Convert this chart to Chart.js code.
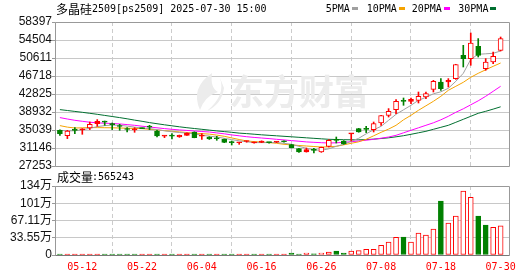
<!DOCTYPE html>
<html><head><meta charset="utf-8">
<script src="https://cdn.jsdelivr.net/npm/chart.js@4/dist/chart.umd.min.js"></script>
<style>
html,body{margin:0;padding:0;background:#fff;width:530px;height:276px;overflow:hidden}
#wrap{position:relative;width:530px;height:276px}
#kc{position:absolute;left:0;top:0}
#vc{position:absolute;left:0;top:168px}
</style></head><body>
<div id="wrap"><canvas id="kc" width="530" height="176"></canvas><canvas id="vc" width="530" height="108"></canvas></div>
<script>
const dates = ['05-07','05-08','05-09','05-12','05-13','05-14','05-15','05-16','05-19','05-20','05-21','05-22','05-23','05-26','05-27','05-28','05-29','05-30','06-03','06-04','06-05','06-06','06-09','06-10','06-11','06-12','06-13','06-16','06-17','06-18','06-19','06-20','06-23','06-24','06-25','06-26','06-27','06-30','07-01','07-02','07-03','07-04','07-07','07-08','07-09','07-10','07-11','07-14','07-15','07-16','07-17','07-18','07-21','07-22','07-23','07-24','07-25','07-28','07-29','07-30'];
const open  = [34973,33825,35000,35080,35469,36421,36800,36250,35950,35280,35080,35450,35700,34821,33720,33760,33523,33890,34605,33720,33523,33200,33026,32330,32290,32550,32250,32350,32350,32400,32600,31879,31014,30278,30680,30278,31511,32850,32657,34200,35340,35220,35123,36551,38217,39450,41280,41245,41462,42175,43840,45419,45419,46154,51194,50481,53141,48318,49745,52276];
const high  = [35060,34973,35556,35340,36767,37287,36984,36551,36270,35556,35556,35500,36054,34973,33800,34259,33950,34450,34650,34259,33600,33675,33100,32657,32380,32700,32400,32700,32400,32500,32700,31950,31050,31143,31079,31350,32961,33523,32750,34280,35400,35837,36767,38200,39666,41613,41959,41959,43256,43256,45787,46154,46154,49250,53357,56018,54807,50481,51908,55153];
const low   = [33891,33176,34259,34108,35123,35837,36054,35123,34973,34600,34540,35300,35123,33566,33393,33090,33450,33850,33350,33026,33000,32810,32300,31792,31943,32400,32200,32300,32200,32300,32400,31150,30200,30250,30062,30200,31360,32225,31950,32657,34550,34476,34605,36054,37849,38584,40380,40747,40877,41829,43256,43624,44338,45998,48664,49032,50827,47950,49399,52124];
const close = [34259,34821,34950,35150,36270,36919,36750,36200,35800,35150,35130,35350,35650,33739,33760,33720,33890,34389,33393,33760,33090,33150,32377,32300,32330,32600,32350,32650,32300,32450,32500,31230,30278,30797,30620,31295,32810,32780,32008,34259,34605,35160,36421,38152,39082,41245,41220,41678,42327,42910,45571,43992,45787,49183,50481,53855,51194,49745,50978,54807];
const ma5  = [34972,34864,34864,35080,35405,35772,35988,36097,36053,35880,35664,35448,35340,35123,34864,34648,34496,34388,34215,33890,33717,33523,33242,32960,32701,32485,32312,32312,32312,32333,32160,31944,31511,31079,30754,30646,30970,31511,31944,32593,33242,34215,35080,35837,37135,38433,39406,40379,41461,42110,42867,43300,44057,45571,47301,50329,51411,51519,51627,52125];
const ma10 = [35988,35664,35469,35513,35556,35556,35534,35513,35469,35426,35383,35340,35188,35059,34907,34756,34626,34496,34366,34258,34150,33934,33674,33328,32982,32679,32528,32420,32312,32160,31944,31814,31684,31576,31468,31360,31403,31511,31836,32160,32485,33025,33782,34539,35232,36053,37243,38216,39298,40271,41245,42326,43624,44489,45354,46436,47301,48058,48815,49529];
const ma20 = [37719,37416,37135,36919,36724,36594,36508,36443,36356,36205,36053,35859,35686,35513,35340,35188,35059,34950,34820,34712,34604,34409,34215,33977,33782,33588,33436,33306,33177,33025,32896,32744,32614,32463,32376,32290,32225,32268,32376,32506,32658,32831,33025,33263,33523,33890,34431,34972,35513,36053,36594,37243,38000,38865,39622,40488,41353,42326,43408,44489];
const ma30 = [39449,39254,39060,38865,38649,38433,38195,37957,37719,37459,37178,36918,36637,36399,36161,35945,35729,35534,35361,35188,35015,34842,34691,34539,34366,34258,34128,33998,33890,33782,33674,33566,33458,33349,33241,33133,33025,32982,32938,32917,32917,32960,33068,33198,33349,33566,33804,34107,34432,34756,35189,35621,36054,36703,37352,38000,38649,39082,39557,40055];
const volume = [12000,10000,9000,11000,15000,13000,10000,11000,9000,10000,8000,9000,10000,14000,10000,11000,10000,12000,15000,11000,13000,12000,16000,14000,13000,15000,12000,16000,15000,17000,20000,39000,20000,39000,22000,35000,58000,78000,39000,78000,84000,110000,110000,189000,253000,344000,350000,253000,428000,389000,506000,1050000,622000,759000,1245000,1122000,759000,583000,539000,565243];
const priceTicks = [27253,31146,35039,38932,42825,46718,50611,54504,58397];
const volTicks = [0,335550,671100,1006650,1342200];
const volTickLabels = ['0','33.55万','67.11万','101万','134万'];
const labelIdx = [3,11,19,27,35,43,51,59];
const titleCJK = '多晶硅';
const titleRest = '2509[ps2509] 2025-07-30 15:00';
const legendItems = [['5PMA','#a0a0a0'],['10PMA','#f5a300'],['20PMA','#ff00ff'],['30PMA','#006f30']];
const volLabel = '成交量';
const volLast = ':565243';

const RED = '#ff0000', GREEN = '#008000';
const PMIN = 27253, PMAX = 58397, XMIN = -0.656, XMAX = 60.12;
const pxPerPrice = 144 / (PMAX - PMIN);
const isUp = i => close[i] >= open[i];
const volUp = i => i === 0 ? isUp(0) : close[i] >= close[i - 1];

const bodyData = dates.map((d, i) => ({x: i, y: [open[i], close[i]]}));
const wickData = dates.map((d, i) => ({x: i, y: [low[i], high[i]]}));
const bodyBg = dates.map((d, i) => isUp(i) ? (Math.abs(close[i] - open[i]) * pxPerPrice < 2.5 ? RED : '#ffffff') : GREEN);
const bodyBd = dates.map((d, i) => isUp(i) ? RED : GREEN);
const line = (arr, color) => ({type: 'line', data: arr.map((v, i) => ({x: i, y: v})), borderColor: color, borderWidth: 1, pointRadius: 0, fill: false, tension: 0, order: 3});

const frame = (bottomColor) => ({id: 'frame', afterDatasetsDraw(c) {
  const a = c.chartArea, x = c.ctx;
  x.save(); x.lineWidth = 1; x.strokeStyle = '#999';
  const l = Math.round(a.left) + 0.5, t = Math.round(a.top) + 0.5, r = Math.round(a.right) + 0.5, b = Math.round(a.bottom) + 0.5;
  x.beginPath(); x.moveTo(l, b); x.lineTo(l, t); x.lineTo(r, t); x.lineTo(r, b); x.stroke();
  x.strokeStyle = bottomColor; x.beginPath(); x.moveTo(l, b); x.lineTo(r, b); x.stroke();
  x.restore();
}});

const watermark = {id: 'wm', beforeDatasetsDraw(c) {
  const x = c.ctx; x.save();
  x.fillStyle = '#ececec';
  x.beginPath();
  x.moveTo(212, 73); x.quadraticCurveTo(190, 88, 200, 110); x.quadraticCurveTo(205, 96, 218, 92);
  x.quadraticCurveTo(210, 88, 212, 73); x.fill();
  x.beginPath();
  x.moveTo(220, 78); x.quadraticCurveTo(226, 95, 207, 111); x.quadraticCurveTo(222, 104, 224, 88); x.fill();
  x.font = "bold 35px 'Noto Sans CJK SC'"; x.textBaseline = 'middle'; x.textAlign = 'left';
  x.fillText('东方财富', 229, 92);
  x.restore();
}};

const topText = {id: 'toptext', afterDraw(c) {
  const x = c.ctx; x.save(); x.fillStyle = '#000'; x.textBaseline = 'middle'; x.textAlign = 'left';
  x.font = "12px 'Noto Sans CJK SC'"; x.fillText(titleCJK, 56, 9);
  x.font = "10px 'DejaVu Sans Mono'"; x.fillText(titleRest, 92, 9);
  const pos = [325.7, 366.7, 411.7, 458.3];
  legendItems.forEach((it, k) => {
    x.fillStyle = '#000'; x.font = "10px 'DejaVu Sans Mono'";
    x.fillText(it[0], pos[k], 9);
    const w = x.measureText(it[0]).width;
    x.fillStyle = it[1]; x.fillRect(Math.round(pos[k] + w + 2), 7, 6, 3);
  });
  x.restore();
}};

const volText = {id: 'voltext', afterDraw(c) {
  const x = c.ctx; x.save(); x.fillStyle = '#000'; x.textBaseline = 'middle'; x.textAlign = 'left';
  x.font = "12px 'Noto Sans CJK SC'"; x.fillText(volLabel, 57, 9);
  x.font = "10px 'DejaVu Sans Mono'"; x.fillText(volLast, 92, 9);
  x.restore();
}};

new Chart(document.getElementById('kc'), {
  type: 'bar',
  data: {datasets: [
    line(ma5, legendItems[0][1]), line(ma10, legendItems[1][1]), line(ma20, legendItems[2][1]), line(ma30, legendItems[3][1]),
    {data: wickData, backgroundColor: bodyBd, borderWidth: 0, barThickness: 1, grouped: false, order: 2, minBarLength: 1},
    {data: bodyData, backgroundColor: bodyBg, borderColor: bodyBd, borderWidth: 1, borderSkipped: false, barThickness: 5, grouped: false, order: 1, minBarLength: 1}
  ]},
  options: {
    responsive: false, animation: false, devicePixelRatio: 1,
    layout: {padding: {left: 0, right: 21, top: 22, bottom: 10}},
    plugins: {legend: {display: false}, tooltip: {enabled: false}},
    scales: {
      x: {type: 'linear', min: XMIN, max: XMAX, offset: false,
        afterBuildTicks: s => { s.ticks = labelIdx.map(v => ({value: v})); },
        afterFit: s => { s.height = 0; },
        ticks: {display: false},
        grid: {color: '#cccccc', drawTicks: false, lineWidth: 1},
        border: {display: false, dash: [4, 3]}},
      y: {min: PMIN, max: PMAX,
        afterBuildTicks: s => { s.ticks = priceTicks.map(v => ({value: v})); },
        afterFit: s => { s.width = 55; },
        ticks: {padding: 0, autoSkip: false, color: '#111', font: {family: "'Liberation Sans', Arial", size: 12}, callback: v => String(v)},
        grid: {color: '#c8c8c8', tickLength: 3, tickColor: '#999'},
        border: {display: false}}
    }
  },
  plugins: [watermark, frame('#999'), topText]
});

new Chart(document.getElementById('vc'), {
  type: 'bar',
  data: {datasets: [{
    data: volume.map((v, i) => ({x: i, y: v})),
    backgroundColor: volume.map((v, i) => volUp(i) ? (v < 30000 ? RED : '#ffffff') : GREEN),
    borderColor: volume.map((v, i) => volUp(i) ? RED : GREEN),
    borderWidth: 1, borderSkipped: false, barThickness: 5, grouped: false, minBarLength: 1
  }]},
  options: {
    responsive: false, animation: false, devicePixelRatio: 1,
    layout: {padding: {left: 0, right: 21, top: 18, bottom: 0}},
    plugins: {legend: {display: false}, tooltip: {enabled: false}},
    scales: {
      x: {type: 'linear', min: XMIN, max: XMAX, offset: false,
        afterBuildTicks: s => { s.ticks = labelIdx.map(v => ({value: v})); },
        afterFit: s => { s.height = 21; },
        ticks: {color: RED, padding: 6, maxRotation: 0, autoSkip: false, font: {family: "'DejaVu Sans Mono'", size: 10}, callback: v => dates[v]},
        grid: {color: '#cccccc', drawTicks: false, lineWidth: 1},
        border: {display: false, dash: [4, 3]}},
      y: {min: 0, max: volTicks[volTicks.length - 1],
        afterBuildTicks: s => { s.ticks = volTicks.map(v => ({value: v})); },
        afterFit: s => { s.width = 55; },
        ticks: {padding: 0, autoSkip: false, color: '#111', font: {family: "'Liberation Sans', 'Noto Sans CJK SC'", size: 12}, callback: (v, k) => volTickLabels[k]},
        grid: {color: '#c8c8c8', tickLength: 3, tickColor: '#999'},
        border: {display: false}}
    }
  },
  plugins: [frame('#777'), volText]
});
</script>
</body></html>
